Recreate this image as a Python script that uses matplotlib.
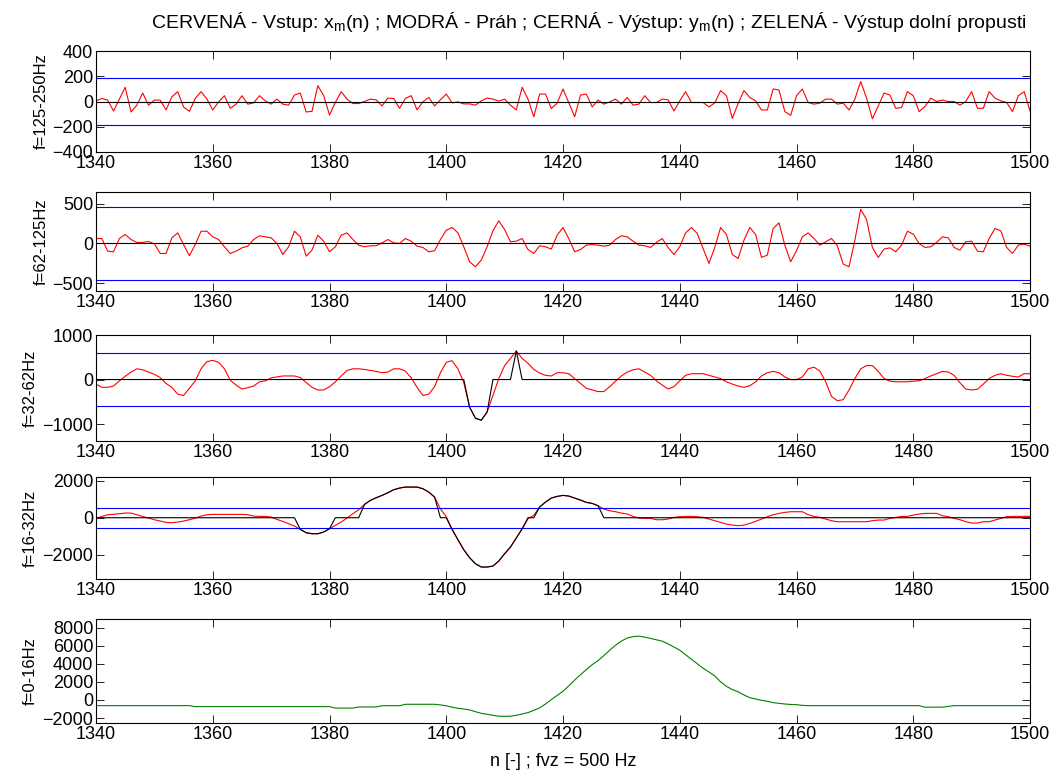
import numpy as np
import matplotlib
matplotlib.use('Agg')
import matplotlib.pyplot as plt

plt.rcParams['font.family'] = ['Liberation Sans', 'DejaVu Sans']
plt.rcParams['mathtext.fontset'] = 'custom'
plt.rcParams['mathtext.rm'] = 'Liberation Sans'

# osa x - vzorky
n = np.arange(1340, 1501)

# vstupy jednotlivych pasem
x_125_250 = [5, 24, 11, -75, 19, 113, -83, -29, 67, -29,
             11, 11, -67, 38, 78, -43, -78, 24, 78, 19,
             -67, -3, 46, -54, -21, 46, -21, -11, 46, 5,
             -21, 19, -21, -29, 51, 67, -83, -78, 126, 46,
             -107, -8, 78, 19, -16, -16, 0, 19, 13, -35,
             27, 24, -54, 24, 46, -67, -3, 32, -35, 13,
             59, -11, -3, -19, -19, -29, 5, 27, 19, 3,
             19, -29, -67, 113, 19, -121, 59, 59, -56, -13,
             99, -10, -121, 51, 59, -43, 11, -21, -3, 19,
             -21, 32, -29, -21, 46, -8, -8, 19, 13, -75,
             5, 78, -8, -8, -8, -43, -11, 86, 46, -134,
             -16, 86, 32, 5, -67, -67, 99, 91, -80, -110,
             46, 99, -8, -21, -13, 19, 19, -21, -13, -67,
             19, 158, 27, -137, -35, 67, 51, -54, -48, 78,
             46, -80, -40, 27, 0, 11, 0, 0, -29, 0,
             78, -54, -54, 78, 27, 5, -8, -80, 46, 78,
             -75]

x_62_125 = [63, 63, -97, -105, 63, 113, 50, 13, 13, 25,
            -4, -126, -126, 71, 134, -13, -155, -13, 155, 155,
            84, 50, -42, -126, -97, -55, -34, 50, 97, 84,
            71, 0, -139, -42, 155, 84, -160, -84, 105, 29,
            -105, -42, 105, 134, 50, -21, -42, -29, -29, 8,
            50, 8, 0, 63, 29, -34, -50, -105, -92, 50,
            168, 202, 134, -42, -231, -294, -210, -42, 160, 286,
            176, 21, 29, 63, -76, -126, -29, -42, -71, 105,
            202, 60, -105, -76, -21, -13, -21, -34, -21, 50,
            97, 84, 29, -21, -29, -50, 13, 63, -50, -139,
            -42, 134, 202, 126, -63, -252, -50, 202, 113, -139,
            -189, 42, 202, 113, -176, -147, 189, 260, -21, -231,
            -92, 84, 134, 63, -21, 21, 63, -29, -260, -294,
            42, 432, 302, -50, -176, -71, -55, -105, -21, 155,
            118, 0, -50, -42, 13, 84, 71, -50, -84, 21,
            29, -97, -105, 63, 189, 160, -50, -126, -21, -8,
            -34]

x_32_62 = [-102, -175, -175, -146, -29, 73, 168, 241, 219, 168,
           117, 44, -88, -175, -329, -358, -197, -29, 241, 402,
           431, 387, 241, -15, -124, -212, -183, -146, -51, -29,
           37, 58, 80, 80, 80, 44, -66, -175, -234, -234,
           -161, -51, 80, 204, 241, 241, 226, 204, 183, 153,
           168, 241, 241, 190, 37, -175, -358, -329, -161, 153,
           387, 423, 241, -66, -620, -869, -913, -730, -358, 22,
           314, 475, 640, 475, 365, 226, 146, 95, 80, 153,
           153, 131, 22, -88, -197, -234, -270, -270, -161, -37,
           80, 168, 219, 241, 168, 95, -29, -124, -212, -161,
           -29, 95, 131, 131, 131, 95, 58, 22, -51, -102,
           -146, -175, -139, -51, 80, 153, 183, 153, 58, 0,
           0, 58, 241, 277, 190, -51, -380, -475, -453, -234,
           22, 241, 314, 314, 183, 22, -37, -51, -51, -51,
           -37, -29, 22, 80, 131, 183, 168, 95, -73, -212,
           -234, -219, -102, 22, 95, 131, 95, 73, 58, 131,
           131]

x_16_32 = [-54, 72, 162, 180, 216, 252, 252, 162, 72, -18,
           -108, -180, -252, -270, -234, -180, -108, -18, 90, 162,
           180, 180, 180, 180, 180, 180, 162, 90, 72, 72,
           36, -90, -198, -324, -450, -630, -810, -864, -864, -774,
           -594, -414, -234, -18, 216, 432, 720, 936, 1080, 1206,
           1350, 1512, 1602, 1656, 1656, 1656, 1566, 1386, 1116, 480,
           60, -630, -1188, -1728, -2160, -2484, -2664, -2664, -2610, -2340,
           -1944, -1584, -1098, -600, -54, 126, 580, 846, 1062, 1152,
           1206, 1170, 1062, 954, 828, 774, 648, 468, 378, 324,
           252, 198, 72, -18, -36, -36, -108, -108, -72, 18,
           54, 72, 72, 54, 18, -72, -162, -252, -342, -396,
           -432, -396, -306, -198, -72, 54, 162, 234, 288, 324,
           324, 324, 162, 72, 18, -72, -162, -216, -216, -216,
           -216, -216, -216, -162, -126, -126, -36, 18, 72, 72,
           144, 198, 234, 234, 234, 108, 54, -36, -108, -216,
           -288, -288, -216, -216, -126, -36, 54, 72, 72, 72,
           72]

# vystup dolni propusti
x_0_16 = [-630, -630, -630, -630, -630, -630, -630, -630, -630, -630,
          -630, -630, -630, -630, -630, -630, -630, -740, -740, -740,
          -740, -740, -740, -740, -740, -740, -740, -740, -740, -740,
          -740, -740, -740, -740, -740, -740, -740, -740, -740, -740,
          -740, -900, -900, -900, -900, -780, -780, -780, -780, -640,
          -640, -640, -640, -480, -480, -480, -480, -480, -480, -550,
          -650, -800, -920, -1000, -1100, -1300, -1480, -1580, -1700, -1800,
          -1810, -1800, -1700, -1550, -1400, -1150, -880, -450, 40, 500,
          960, 1560, 2200, 2800, 3350, 3900, 4350, 4900, 5500, 6050,
          6500, 6850, 7000, 7050, 6950, 6800, 6650, 6500, 6200, 5850,
          5500, 5000, 4500, 4000, 3500, 3100, 2650, 2000, 1500, 1150,
          900, 550, 250, 100, -40, -150, -300, -380, -450, -500,
          -520, -600, -630, -630, -630, -630, -630, -630, -630, -630,
          -630, -630, -630, -630, -630, -630, -630, -630, -630, -630,
          -630, -630, -800, -800, -800, -800, -720, -630, -630, -630,
          -630, -630, -630, -630, -630, -630, -630, -630, -630, -630,
          -630]

# prahy
prahy = [190, 460, 600, 550]

pasma = [x_125_250, x_62_125, x_32_62, x_16_32]
popisky = ['f=125-250Hz', 'f=62-125Hz', 'f=32-62Hz', 'f=16-32Hz', 'f=0-16Hz']
ylimity = [(-400, 400), (-600, 650), (-1380, 1000), (-3310, 2200), (-2550, 8950)]
yticky = [[-400, -200, 0, 200, 400], [-500, 0, 500], [-1000, 0, 1000],
          [-2000, 0, 2000], [-2000, 0, 2000, 4000, 6000, 8000]]

fig = plt.figure(figsize=(10.61, 7.78), dpi=100)
W, H = 1061.0, 778.0
left = 96 / W
width = 934 / W
# horni okraje a vysky panelu v pixelech
tops = [51, 192, 335, 477, 619]
vysky = [101, 99, 106, 102, 104]

axes = []
for i in range(5):
    ax = fig.add_axes([left, 1 - (tops[i] + vysky[i]) / H, width, vysky[i] / H])
    axes.append(ax)

for i in range(4):
    ax = axes[i]
    x = np.array(pasma[i])
    thr = prahy[i]
    # vystup = vstup nad prahem, jinak nula
    y = np.where(np.abs(x) > thr, x, 0)
    ax.plot(n, x, color='#ff0000', lw=0.8)
    ax.axhline(thr, color='#0000ff', lw=0.8)
    ax.axhline(-thr, color='#0000ff', lw=0.8)
    ax.plot(n, y, color='k', lw=0.8)

axes[4].plot(n, x_0_16, color='#008000', lw=0.8)

for i, ax in enumerate(axes):
    ax.set_xlim(1340, 1500)
    ax.set_xticks(np.arange(1340, 1501, 20))
    ax.set_ylim(*ylimity[i])
    ax.set_yticks(yticky[i])
    ax.set_ylabel(popisky[i], fontsize=12, labelpad=3)
    ax.tick_params(direction='in', top=True, right=True, length=6,
                   labelsize=13, width=0.6)
    ax.tick_params(axis='x', pad=2.5)
    ax.tick_params(axis='y', pad=2)
    for s in ax.spines.values():
        s.set_linewidth(0.8)

fig.text(589 / W, 1 - 22 / H,
         'CERVENÁ - Vstup: x$_\\mathrm{m}$(n) ; MODRÁ - Práh ; CERNÁ - Výstup: y$_\\mathrm{m}$(n) ; ZELENÁ - Výstup dolní propusti',
         fontsize=14, ha='center', va='center')
axes[4].set_xlabel('n [-] ; fvz = 500 Hz', fontsize=13, labelpad=7)

fig.savefig('out.png', dpi=100)
